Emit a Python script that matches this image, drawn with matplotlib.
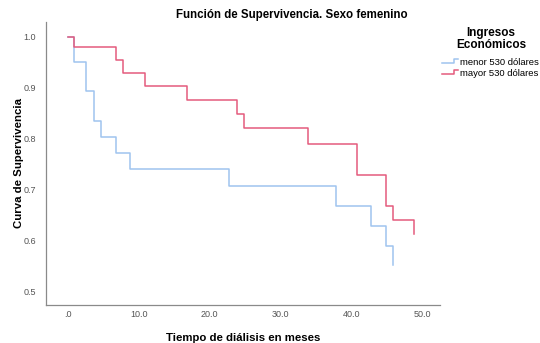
import matplotlib
matplotlib.use("Agg")
import matplotlib.pyplot as plt
from matplotlib.lines import Line2D
from matplotlib.legend_handler import HandlerLine2D

plt.rcParams["font.family"] = ["Liberation Sans", "DejaVu Sans"]

# Kaplan-Meier steps (months, survival)
menor_t = [0, 0.8, 2.6, 3.7, 4.7, 6.8, 8.8, 22.7, 37.8, 42.8, 44.8, 45.8]
menor_s = [1.0, 0.95, 0.894, 0.834, 0.803, 0.772, 0.741, 0.708, 0.668, 0.628, 0.59, 0.553]

mayor_t = [0, 0.8, 6.8, 7.8, 10.9, 16.8, 23.8, 24.8, 33.8, 40.8, 44.8, 45.8, 48.8]
mayor_s = [1.0, 0.98, 0.955, 0.93, 0.904, 0.877, 0.849, 0.821, 0.79, 0.728, 0.669, 0.64, 0.613]

x_ticks = [0, 10, 20, 30, 40, 50]
x_labels = [".0", "10.0", "20.0", "30.0", "40.0", "50.0"]
y_ticks = [0.5, 0.6, 0.7, 0.8, 0.9, 1.0]

BLUE = "#9fc4ef"
RED = "#e45b7d"


class StepHandler(HandlerLine2D):
    # legend glyph drawn as a small step, like SPSS
    def create_artists(self, legend, orig_handle, xdescent, ydescent,
                       width, height, fontsize, trans):
        x0, x1 = -xdescent, -xdescent + width
        xm = x0 + width * 0.75
        ylo, yhi = -ydescent + height * 0.2, -ydescent + height * 0.85
        line = Line2D([x0, xm, xm, x1], [ylo, ylo, yhi, yhi],
                      color=orig_handle.get_color(),
                      linewidth=orig_handle.get_linewidth())
        line.set_transform(trans)
        return [line]


fig = plt.figure(figsize=(5.4, 3.43), dpi=100)
ax = fig.add_axes([0.085, 0.111, 0.73, 0.826])

l1, = ax.step(menor_t, menor_s, where="post", color=BLUE, lw=1.1)
l2, = ax.step(mayor_t, mayor_s, where="post", color=RED, lw=1.1)

ax.set_xlim(-3.1, 52.5)
ax.set_ylim(0.474, 1.03)
ax.set_xticks(x_ticks)
ax.set_xticklabels(x_labels)
ax.set_yticks(y_ticks)
ax.set_yticklabels([f"{v:.1f}" for v in y_ticks])
ax.tick_params(length=0, labelsize=6.5, colors="#555555")
ax.tick_params(axis="x", pad=4)
ax.tick_params(axis="y", pad=7)

for side in ["top", "right"]:
    ax.spines[side].set_visible(False)
for side in ["left", "bottom"]:
    ax.spines[side].set_color("#8a8a8a")
    ax.spines[side].set_linewidth(0.9)

ax.set_xlabel("Tiempo de diálisis en meses", fontsize=8.2, fontweight="bold", labelpad=10)
ax.set_ylabel("Curva de Supervivencia", fontsize=8.2, fontweight="bold", labelpad=0)

fig.text(0.541, 0.956, "Función de Supervivencia. Sexo femenino",
         ha="center", va="center", fontsize=8.3, fontweight="bold")

fig.text(0.909, 0.887, "Ingresos\nEconómicos", ha="center", va="center",
         fontsize=8.5, fontweight="bold", linespacing=1.0)

fig.legend([l1, l2], ["menor 530 dólares", "mayor 530 dólares"],
           loc="upper left", bbox_to_anchor=(0.818, 0.832), frameon=False,
           fontsize=6.8, handlelength=1.7, handletextpad=0.2, labelspacing=0.2,
           borderaxespad=0, borderpad=0, handler_map={Line2D: StepHandler()})

fig.savefig("out.png", dpi=100)
